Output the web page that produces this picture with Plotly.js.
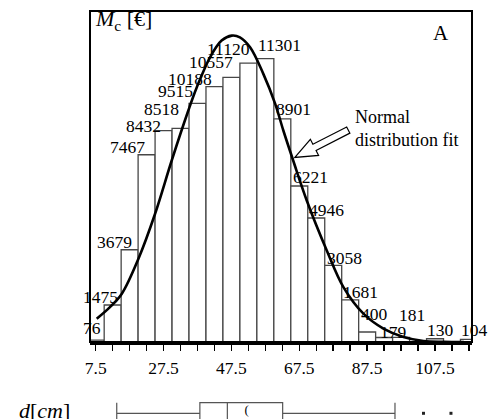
<!DOCTYPE html>
<html>
<head>
<meta charset="utf-8">
<script src="https://cdn.plot.ly/plotly-3.0.1.min.js"></script>
<style>html,body{margin:0;padding:0;background:#fff;}#chart{width:496px;height:419px;}</style>
</head>
<body>
<div id="chart"></div>
<script>
// ---- data ----
const binCenters = [7.5, 12.5, 17.5, 22.5, 27.5, 32.5, 37.5, 42.5, 47.5, 52.5, 57.5, 62.5, 67.5, 72.5, 77.5, 82.5, 87.5, 92.5, 97.5, 107.5, 117.5];
const binCounts  = [76, 1475, 3679, 7467, 8432, 8518, 9515, 10188, 10557, 11120, 11301, 8901, 6221, 4946, 3058, 1681, 400, 179, 181, 130, 104];

// normal distribution fit curve
const fitX = [7.8, 11.7, 15.2, 20.1, 25.0, 29.9, 34.8, 37.3, 41.2, 44.6, 47.6, 50.0, 53.0, 56.9, 60.4, 62.8, 65.7, 69.7, 75.6, 80.5, 86.4, 92.3, 98.2, 104.1, 110.0, 116.0];
const fitY = [932, 1394, 1928, 3323, 5116, 7239, 9231, 10159, 11355, 12020, 12219, 12151, 11753, 10693, 9498, 8434, 7239, 5645, 3653, 2191, 1131, 534, 199, 40, 8, 0];

// box plot of d [cm]
const boxLowerFence = 13.7;
const boxQ1 = 38.2;
const boxMedian = 46.3;
const boxQ3 = 62.6;
const boxUpperFence = 95.7;
const boxMean = 52.0;
const boxOutliers = [104.1, 112.2];

// tick labels
const tickValues = [7.5, 27.5, 47.5, 67.5, 87.5, 107.5];
const tickLabels = ["7.5", "27.5", "47.5", "67.5", "87.5", "107.5"];

// ---- label placement styles (pixel offsets, not data) ----
const labelSide   = ["r","r","r","r","r","r","r","r","r","r","l","l","l","l","l","l","l","l","l","l","l"];
const labelShiftX = [6, 6, 3.5, -1, -2, -1, -3, -1, 3, 3, -8, -7, -7, -8.5, -7.7, -8, -7.5, -5.5, -3, -9, -9];
const labelShiftY = [3, -1, -1, -1, -4, 10, 3, -1, 6, 5, 5, 1, 0, -1, -2, -1, 9, -3, 13, 0, 0];

const serif = "Liberation Serif, Times New Roman, serif";

const bars = {
  type: "bar",
  x: binCenters,
  y: binCounts,
  width: 5,
  marker: {color: "#ffffff", line: {color: "#474747", width: 1.3}},
  xaxis: "x", yaxis: "y",
  hoverinfo: "skip"
};

const fit = {
  type: "scatter",
  mode: "lines",
  x: fitX,
  y: fitY,
  line: {color: "#000000", width: 2.6, shape: "spline", smoothing: 1},
  xaxis: "x", yaxis: "y",
  hoverinfo: "skip"
};

const box = {
  type: "box",
  orientation: "h",
  y: [0],
  q1: [boxQ1],
  median: [boxMedian],
  q3: [boxQ3],
  lowerfence: [boxLowerFence],
  upperfence: [boxUpperFence],
  width: 1,
  whiskerwidth: 1,
  fillcolor: "#ffffff",
  line: {color: "#555555", width: 1.2},
  xaxis: "x2", yaxis: "y2",
  hoverinfo: "skip"
};

const outliers = {
  type: "scatter",
  mode: "markers",
  x: boxOutliers,
  y: boxOutliers.map(() => 0),
  marker: {color: "#222222", size: 3, symbol: "square"},
  xaxis: "x2", yaxis: "y2",
  hoverinfo: "skip"
};

const meanMark = {
  type: "scatter",
  mode: "text",
  x: [boxMean],
  y: [0.1],
  text: ["("],
  textfont: {family: serif, size: 13, color: "#000"},
  xaxis: "x2", yaxis: "y2",
  hoverinfo: "skip"
};

const annotations = binCenters.map((c, i) => ({
  x: c, y: binCounts[i], xref: "x", yref: "y",
  text: String(binCounts[i]),
  showarrow: false,
  xanchor: labelSide[i] === "r" ? "right" : "left",
  yanchor: "bottom",
  xshift: labelShiftX[i],
  yshift: labelShiftY[i] - 2,
  borderpad: 0,
  font: {family: serif, size: 17.5, color: "#000"}
}));

annotations.push(
  {xref: "paper", yref: "paper", x: 0.0086, y: 0.978, xanchor: "left", yanchor: "middle",
   text: "<i>M</i><sub>c</sub> [€]", showarrow: false, font: {family: serif, size: 22, color: "#000"}},
  {xref: "paper", yref: "paper", x: 0.920, y: 0.946, xanchor: "center", yanchor: "middle",
   text: "A", showarrow: false, font: {family: serif, size: 21, color: "#000"}},
  {xref: "paper", yref: "paper", x: 0.689, y: 0.711, xanchor: "left", yanchor: "middle", align: "left",
   text: "Normal<br>distribution fit", showarrow: false, font: {family: serif, size: 18, color: "#000"}},
  {xref: "paper", yref: "paper", x: -0.118, y: 0.022, xanchor: "center", yanchor: "middle",
   text: "<i>d</i>[<i>cm</i>]", showarrow: false, font: {family: serif, size: 22, color: "#000"}}
);

const layout = {
  width: 496, height: 419,
  margin: {l: 90, r: 24, t: 11, b: 0, pad: 0},
  paper_bgcolor: "#ffffff", plot_bgcolor: "#ffffff",
  showlegend: false,
  font: {family: serif, color: "#000"},
  bargap: 0,
  xaxis: {
    domain: [0, 1], anchor: "y",
    range: [5.82, 118.4],
    showline: true, linewidth: 3, linecolor: "#000",
    ticks: "outside", ticklen: 6, tickwidth: 1.5, tickcolor: "#000",
    tickmode: "array", tickvals: tickValues, ticktext: tickLabels,
    minor: {tick0: 7.5, dtick: 5, ticks: "outside", ticklen: 6, tickwidth: 1.5, tickcolor: "#000", showgrid: false},
    tickfont: {family: serif, size: 17.5, color: "#000"},
    ticklabelstandoff: 2,
    showgrid: false, zeroline: false
  },
  yaxis: {
    domain: [0.1887, 1], anchor: "x",
    range: [0, 13200],
    showticklabels: false, ticks: "", showgrid: false, zeroline: false, showline: false
  },
  xaxis2: {
    domain: [0, 1], anchor: "y2", matches: "x",
    range: [5.82, 118.4],
    visible: false, showgrid: false, zeroline: false
  },
  yaxis2: {
    domain: [0, 0.0564], anchor: "x2",
    range: [-0.269, 0.816],
    visible: false, showgrid: false, zeroline: false
  },
  shapes: [
    {type: "rect", xref: "x domain", yref: "y domain", x0: 0, x1: 1, y0: 0, y1: 1,
     line: {color: "#000", width: 2}, fillcolor: "rgba(0,0,0,0)", layer: "above"},
    {type: "path", xref: "x", yref: "y", xsizemode: "pixel", ysizemode: "pixel",
     xanchor: 66.2, yanchor: 7360,
     path: "M0,0 L15.5,18.1 L18,13.2 L51.8,30.5 L55,24.3 L21.2,6.9 L23.7,2 Z",
     line: {color: "#000", width: 1.2}, fillcolor: "#ffffff", layer: "above"}
  ],
  annotations: annotations
};

Plotly.newPlot("chart", [bars, fit, box, outliers, meanMark], layout, {staticPlot: true, displayModeBar: false});
</script>
</body>
</html>
